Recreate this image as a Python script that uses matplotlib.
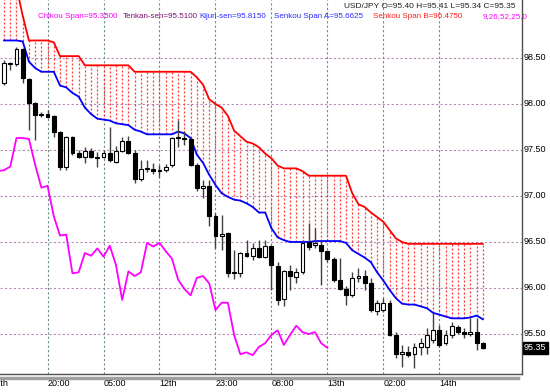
import matplotlib
matplotlib.use("Agg")
import matplotlib.pyplot as plt
import numpy as np

plt.rcParams['font.family'] = ['Liberation Sans', 'DejaVu Sans']

# ---------------- data ----------------
opens = [98.23, 98.45, 98.43, 98.60, 98.27, 98.01, 97.88, 97.89, 97.87, 97.70,
         97.32, 97.64, 97.47, 97.42, 97.49, 97.41, 97.42, 97.47, 97.37, 97.49,
         97.60, 97.47, 97.18, 97.29, 97.29, 97.27, 97.28, 97.34, 97.63, 97.63,
         97.62, 97.34, 97.09, 97.11, 96.78, 96.57, 96.60, 96.16, 96.16, 96.38,
         96.35, 96.43, 96.34, 96.46, 96.24, 95.88, 96.18, 96.12, 96.17, 96.50,
         96.47, 96.47, 96.40, 96.32, 96.09, 95.99, 95.92, 96.11, 96.13, 96.05,
         95.75, 95.76, 95.84, 95.49, 95.28, 95.30, 95.28, 95.36, 95.36, 95.43,
         95.54, 95.40, 95.49, 95.58, 95.52, 95.50, 95.52, 95.40]
highs = [98.48, 98.46, 98.62, 98.61, 98.28, 98.02, 97.91, 97.93, 97.88, 97.71,
         97.65, 97.65, 97.50, 97.53, 97.52, 97.48, 97.50, 97.75, 97.54, 97.64,
         97.65, 97.50, 97.39, 97.39, 97.36, 97.34, 97.35, 97.64, 97.83, 97.71,
         97.64, 97.36, 97.17, 97.17, 96.82, 96.79, 96.61, 96.41, 96.39, 96.52,
         96.49, 96.52, 96.52, 96.47, 96.28, 96.20, 96.25, 96.22, 96.52, 96.71,
         96.65, 96.52, 96.41, 96.34, 96.33, 96.02, 96.17, 96.22, 96.20, 96.11,
         95.87, 95.89, 95.87, 95.52, 95.38, 95.37, 95.40, 95.46, 95.57, 95.73,
         95.60, 95.54, 95.63, 95.60, 95.57, 95.67, 95.67, 95.41]
lows = [98.21, 98.37, 98.41, 98.23, 97.72, 97.61, 97.86, 97.85, 97.64, 97.28,
        97.28, 97.45, 97.41, 97.36, 97.41, 97.32, 97.41, 97.37, 97.36, 97.48,
        97.46, 97.14, 97.16, 97.26, 97.24, 97.21, 97.26, 97.32, 97.53, 97.55,
        97.33, 97.05, 96.98, 96.67, 96.43, 96.41, 96.12, 96.10, 96.12, 96.34,
        96.30, 96.33, 96.33, 95.98, 95.82, 95.80, 95.98, 96.05, 96.15, 96.41,
        96.43, 96.03, 96.28, 96.07, 95.98, 95.82, 95.90, 96.07, 95.98, 95.74,
        95.71, 95.74, 95.48, 95.24, 95.14, 95.25, 95.13, 95.27, 95.28, 95.40,
        95.36, 95.38, 95.46, 95.50, 95.46, 95.48, 95.33, 95.34]
closes = [98.45, 98.43, 98.60, 98.28, 98.01, 97.88, 97.89, 97.86, 97.70, 97.32,
          97.64, 97.47, 97.42, 97.49, 97.42, 97.42, 97.47, 97.39, 97.49, 97.60,
          97.47, 97.18, 97.29, 97.30, 97.27, 97.28, 97.32, 97.63, 97.63, 97.62,
          97.34, 97.09, 97.11, 96.78, 96.57, 96.58, 96.16, 96.17, 96.38, 96.35,
          96.43, 96.34, 96.46, 96.25, 95.87, 96.18, 96.13, 96.17, 96.49, 96.45,
          96.49, 96.40, 96.32, 96.09, 95.99, 95.92, 96.11, 96.13, 96.05, 95.76,
          95.84, 95.84, 95.49, 95.28, 95.30, 95.27, 95.36, 95.40, 95.49, 95.54,
          95.38, 95.49, 95.59, 95.52, 95.50, 95.52, 95.40, 95.35]

senkou_a = [98.69, 98.69, 98.69, 98.68, 98.46, 98.39, 98.35, 98.35, 98.35, 98.20,
            98.18, 98.12, 98.08, 97.96, 97.89, 97.84, 97.83, 97.82, 97.79, 97.78,
            97.77, 97.72, 97.70, 97.67, 97.67, 97.67, 97.67, 97.67, 97.70, 97.68,
            97.63, 97.45, 97.36, 97.23, 97.12, 97.03, 96.99, 96.96, 96.95, 96.92,
            96.88, 96.82, 96.82, 96.65, 96.55, 96.52, 96.50, 96.50, 96.50, 96.50,
            96.51, 96.51, 96.51, 96.51, 96.51, 96.49, 96.41, 96.37, 96.33, 96.28,
            96.17, 96.08, 95.98, 95.89, 95.83, 95.82, 95.82, 95.80, 95.78, 95.73,
            95.71, 95.69, 95.67, 95.67, 95.67, 95.68, 95.70, 95.66]
senkou_b = [99.30, 99.30, 99.27, 98.96, 98.69, 98.69, 98.69, 98.69, 98.67, 98.52,
            98.52, 98.52, 98.52, 98.42, 98.42, 98.42, 98.42, 98.42, 98.42, 98.42,
            98.42, 98.35, 98.35, 98.35, 98.35, 98.35, 98.35, 98.35, 98.35, 98.35,
            98.35, 98.29, 98.21, 98.05, 98.00, 97.96, 97.87, 97.71, 97.65, 97.59,
            97.57, 97.53, 97.46, 97.41, 97.33, 97.30, 97.30, 97.30, 97.27, 97.22,
            97.22, 97.22, 97.22, 97.22, 97.22, 97.22, 97.03, 96.91, 96.88, 96.82,
            96.77, 96.72, 96.63, 96.54, 96.50, 96.48, 96.48, 96.48, 96.48, 96.48,
            96.48, 96.48, 96.48, 96.48, 96.48, 96.48, 96.48, 96.48]
chikou_shift = 25

y_ticks = [95.50, 96.00, 96.50, 97.00, 97.50, 98.00, 98.50]
x_tick_pos = [-2, 7, 16, 25, 34, 43, 52, 61, 70]
x_tick_labels = ["11th", "20:00", "05:00", "12th", "23:00", "08:00", "13th", "02:00", "14th"]

header = "USD/JPY O=95.40 H=95.41 L=95.34 C=95.35"
legend_parts = [("Chikou Span=95.3500", "#ff00ff"),
                ("Tenkan-sen=95.5100", "#7a0f6e"),
                ("Kijun-sen=95.8150", "#2b2bff"),
                ("Senkou Span A=95.6625", "#2b2bff"),
                ("Senkou Span B=96.4750", "#ff2020"),
                ("9,26,52,25,0", "#ff00ff")]
legend_x = [38, 123, 199, 274, 373, 483]
last_price = 95.35

# ---------------- figure ----------------
W, H = 550, 392
fig = plt.figure(figsize=(W / 100, H / 100), dpi=100)
fig.patch.set_facecolor("white")
ax = fig.add_axes([0, 18 / H, 522 / W, 374 / H])
ax.set_facecolor("white")

n = len(closes)
x = np.arange(n)
ax.set_xlim(-0.65, 83.3)
ax.set_ylim(95.065, 99.13)

# grid
for yv in y_ticks:
    ax.axhline(yv, color="#b48cb4", lw=0.8, ls=(0, (2, 2)), zorder=0)
for xv in x_tick_pos:
    ax.axvline(xv, color="#6f8c8c", lw=0.8, ls=(0, (2, 2)), zorder=0)

# kumo (dotted verticals)
ax.vlines(x, senkou_a, senkou_b, colors="#ff3a3a", linestyles=(0, (1.6, 1.6)),
          lw=0.9, zorder=1)
ax.plot(x, senkou_b, color="#ff0000", lw=1.3, zorder=3)
ax.plot(x, senkou_a, color="#0000ff", lw=1.3, zorder=3)

# chikou
cx = np.arange(chikou_shift - 1, n) - chikou_shift
ax.plot(cx, closes[chikou_shift - 1:], color="#ff00ff", lw=1.3, zorder=3)

# candles
ax.vlines(x, lows, highs, colors="#404040", lw=1.0, zorder=4)
o = np.array(opens); c = np.array(closes)
bottoms = np.minimum(o, c)
heights = np.maximum(np.abs(c - o), 0.012)
fills = ["white" if cc >= oo else "black" for oo, cc in zip(o, c)]
ax.bar(x, heights, bottom=bottoms, width=0.62, color=fills, edgecolor="black",
       linewidth=0.8, zorder=5)

for s in ["left", "top"]:
    ax.spines[s].set_visible(False)
ax.spines["right"].set_color("#505050")
ax.spines["bottom"].set_color("#505050")
ax.spines["right"].set_linewidth(1.0)
ax.spines["bottom"].set_linewidth(1.0)
ax.set_xticks([])
ax.set_yticks([])

# y labels
for yv in y_ticks:
    ax.annotate(f"{yv:.2f}", xy=(1, yv), xycoords=("axes fraction", "data"),
                xytext=(2, 0), textcoords="offset pixels", ha="left", va="center",
                fontsize=6.5, color="black", annotation_clip=False)
ax.annotate(f"{last_price:.2f}", xy=(1, last_price), xycoords=("axes fraction", "data"),
            xytext=(2, 0), textcoords="offset pixels", ha="left", va="center",
            fontsize=6.5, color="white", annotation_clip=False,
            bbox=dict(boxstyle="square,pad=0.15", fc="black", ec="black"))

# x labels
for xv, lab in zip(x_tick_pos, x_tick_labels):
    ax.annotate(lab, xy=(xv, 0), xycoords=("data", "axes fraction"),
                xytext=(0, -9), textcoords="offset pixels", ha="left", va="center",
                fontsize=6.5, color="black", annotation_clip=False)

# scrollbar-like strip under chart
fig.add_artist(plt.Line2D([0, 518 / W], [1 - 377.5 / H, 1 - 377.5 / H],
                          color="#a0a0a0", lw=2.5))

# header texts
fig.text(515 / W, 1 - 7 / H, header, ha="right", va="center", fontsize=6.0, color="#202020")
for (txt, col), px in zip(legend_parts, legend_x):
    fig.text(px / W, 1 - 17 / H, txt, ha="left", va="center", fontsize=5.8, color=col)

fig.savefig("out.png", dpi=100, facecolor="white")
